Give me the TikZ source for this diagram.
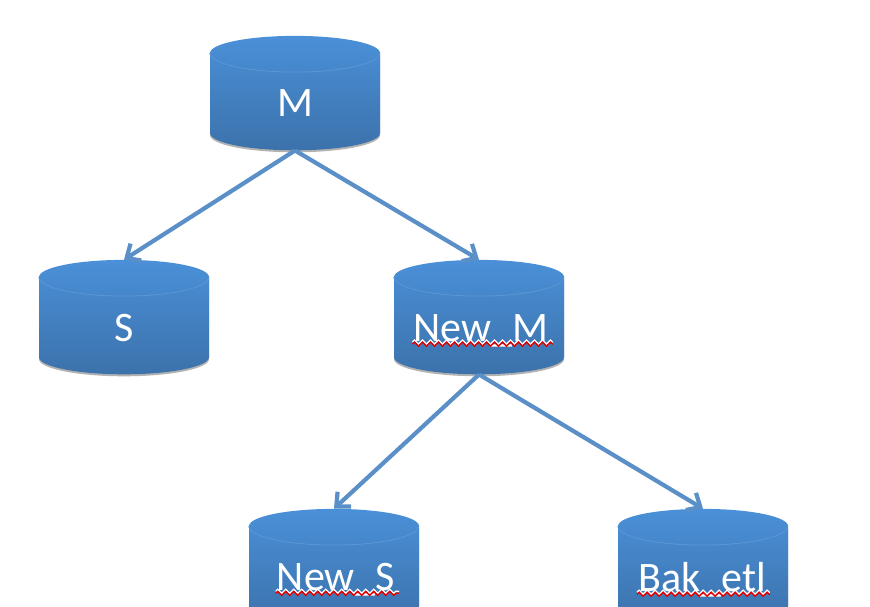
\documentclass[tikz,border=0pt]{standalone}
\usepackage{fontspec}
\setmainfont{Carlito}
\usetikzlibrary{arrows.meta,positioning,shapes.geometric,shadows,decorations.pathmorphing}
\definecolor{dbtop}{HTML}{4A90D8}
\definecolor{dbbottom}{HTML}{3C72AB}
\definecolor{dbrim}{HTML}{5A97D3}
\definecolor{dbarrow}{HTML}{5B8FC8}
\tikzset{
  db/.style={shape=cylinder,shape border rotate=90,aspect=0.447,minimum width=170pt,minimum height=100pt,inner sep=38.5pt,
    top color=dbtop,bottom color=dbbottom,draw=none,
    drop shadow={shadow xshift=0pt,shadow yshift=-2pt,opacity=.3,fill=black}},
  dbtext/.style={text=white,font=\fontsize{42}{42}\selectfont,inner sep=0pt,yshift=6pt},
  spell/.style={draw=red!90!black,line width=1.4pt,decorate,decoration={zigzag,segment length=8pt,amplitude=2pt}},
  spellbg/.style={draw=white,line width=1.4pt,decorate,decoration={zigzag,segment length=8pt,amplitude=2pt}},
  link/.style={draw=dbarrow,line width=4.2pt,-{Straight Barb[length=11pt,width=20pt,line width=4.2pt]}}
}
\begin{document}
\begin{tikzpicture}[x=1pt,y=1pt,on grid]
   \clip (0,0) rectangle (870,-607);
   \node[db] (M) at (295,-109) {};
   \node[db] (S) [below left=224pt and 171pt of M] {};
   \node[db] (New_M) [below right=224pt and 184pt of M] {};
   \node[db] (New_S) [below left=249pt and 145pt of New_M] {};
   \node[db] (Bak_etl) [right=369pt of New_S] {};
   \foreach \db in {M,S,New_M,New_S,Bak_etl}
     \draw[dbrim,line width=.8pt] (\db.before top) arc[start angle=180,end angle=360,x radius=85pt,y radius=19pt];
   \node[dbtext] (M_txt) at (M) {M};
   \node[dbtext,yshift=-1pt] (S_txt) at (S) {S};
   \node[dbtext,xshift=2pt,yshift=-4pt] (New_M_txt) at (New_M) {New\_M};
   \node[dbtext,xshift=2pt,yshift=-4pt] (New_S_txt) at (New_S) {New\_S};
   \node[dbtext,xshift=-1pt,yshift=-4pt] (Bak_etl_txt) at (Bak_etl) {Bak\_etl};
   \foreach \db in {New_M,New_S,Bak_etl} {
     \path[spellbg] ([yshift=-0.5pt,xshift=-1pt]\db_txt.base west) -- ([yshift=-0.5pt,xshift=4pt]\db_txt.base east);
     \path[spell] ([yshift=-2.5pt,xshift=-1pt]\db_txt.base west) -- ([yshift=-2.5pt,xshift=4pt]\db_txt.base east);
   }
   \path
    (M.bottom) edge[link] (S.top)
               edge[link] (New_M.top)
    (New_M.bottom) edge[link] (New_S.top)
                   edge[link] (Bak_etl.top);
\end{tikzpicture}
\end{document}
